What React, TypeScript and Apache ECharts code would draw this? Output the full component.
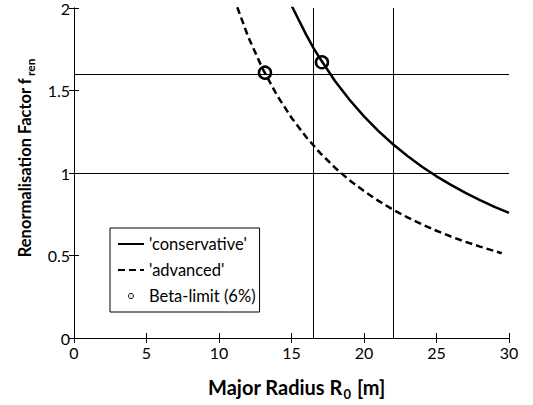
import React, { useEffect, useRef } from "react";
import * as echarts from "echarts";

const conservativeR = [15, 16, 16.5, 17, 18, 19, 20, 21, 22, 23, 24, 25, 26, 27, 28, 29, 30];
const conservativeF = [2.015, 1.84, 1.76, 1.689, 1.558, 1.444, 1.343, 1.254, 1.174, 1.103, 1.038, 0.98, 0.928, 0.88, 0.836, 0.795, 0.758];
const advancedR = [11, 12, 13, 14, 15, 16, 17, 18, 19, 20, 21, 22, 23, 24, 25, 26, 27, 28, 29, 29.5];
const advancedF = [2.067, 1.828, 1.633, 1.471, 1.335, 1.219, 1.119, 1.032, 0.956, 0.89, 0.831, 0.778, 0.731, 0.688, 0.65, 0.615, 0.583, 0.554, 0.527, 0.514];
const betaR = [17.1, 13.17];
const betaF = [1.671, 1.608];
const refY = [1, 1.6];
const refX = [16.5, 22];
const xTicks = [0, 30, 5];
const yTicks = [0, 2, 0.5];

const FONT = "Lato";

export default function App() {
  const ref = useRef<HTMLDivElement>(null);
  useEffect(() => {
    if (!ref.current) return;
    const chart = echarts.init(ref.current, undefined, { renderer: "svg" });
    const axisCommon = {
      axisLine: { show: true, lineStyle: { color: "#000", width: 1 } },
      axisTick: { show: true, inside: true, length: 5, lineStyle: { color: "#000" } },
      splitLine: { show: false },
    };
    const noSymbol = { color: "rgba(0,0,0,0)", borderWidth: 0, opacity: 0 };
    chart.setOption({
      animation: false,
      backgroundColor: "#fff",
      textStyle: { fontFamily: FONT },
      grid: { left: 74, right: 24, top: 8, bottom: 67, containLabel: false },
      xAxis: [
        {
          type: "value",
          min: xTicks[0],
          max: xTicks[1],
          interval: xTicks[2],
          position: "bottom",
          ...axisCommon,
          axisLabel: { color: "#000", fontSize: 16, fontFamily: FONT, margin: 6 },
          name: "{a|Major Radius R}{s|0}{a| [m]}",
          nameLocation: "middle",
          nameGap: 37,
          nameTextStyle: {
            padding: [0, 0, 0, 10],
            rich: {
              a: { fontSize: 20, fontWeight: "bold", fontFamily: FONT, color: "#000", lineHeight: 24 },
              s: { fontSize: 13, fontWeight: "bold", fontFamily: FONT, color: "#000", padding: [13, 1, 0, 1], lineHeight: 24 },
            },
          },
        },
        {
          type: "value",
          min: xTicks[0],
          max: xTicks[1],
          interval: xTicks[2],
          position: "top",
          ...axisCommon,
          axisLabel: { show: false },
        },
      ],
      yAxis: [
        {
          type: "value",
          min: yTicks[0],
          max: yTicks[1],
          interval: yTicks[2],
          position: "left",
          ...axisCommon,
          axisLabel: { color: "#000", fontSize: 16, fontFamily: FONT, margin: 4 },
          name: "{a|Renormalisation Factor f}{s|ren}",
          nameLocation: "middle",
          nameGap: 38,
          nameRotate: 90,
          nameTextStyle: {
            padding: [0, 0, 0, 30],
            rich: {
              a: { fontSize: 16.5, fontWeight: "bold", fontFamily: FONT, color: "#000", lineHeight: 22 },
              s: { fontSize: 12, fontWeight: "bold", fontFamily: FONT, color: "#000", padding: [12, 0, 0, 2], lineHeight: 22 },
            },
          },
        },
        {
          type: "value",
          min: yTicks[0],
          max: yTicks[1],
          interval: yTicks[2],
          position: "right",
          ...axisCommon,
          axisLabel: { show: false },
        },
      ],
      legend: {
        orient: "vertical",
        left: 110,
        top: 228,
        itemWidth: 26,
        itemHeight: 5,
        itemGap: 8,
        padding: [7, 4, 7, 7],
        borderColor: "#000",
        borderWidth: 1,
        backgroundColor: "#fff",
        textStyle: { fontFamily: FONT, fontSize: 16.5, color: "#000", lineHeight: 18 },
        data: [
          { name: "'conservative'", itemStyle: noSymbol },
          { name: "'advanced'", itemStyle: noSymbol },
          { name: "Beta-limit (6%)", itemStyle: { color: "rgba(0,0,0,0)", borderColor: "#000", borderWidth: 1 } },
        ],
      },
      series: [
        {
          name: "'conservative'",
          type: "line",
          symbol: "none",
          clip: true,
          data: conservativeR.map((r, i) => [r, conservativeF[i]]),
          lineStyle: { color: "#000", width: 2.5 },
          itemStyle: { color: "#000" },
          markLine: {
            silent: true,
            symbol: "none",
            label: { show: false },
            lineStyle: { color: "#000", width: 1, type: "solid" },
            data: [
              ...refY.map((v) => ({ yAxis: v })),
              ...refX.map((v) => ({ xAxis: v })),
            ],
          },
          z: 3,
        },
        {
          name: "'advanced'",
          type: "line",
          symbol: "none",
          clip: true,
          data: advancedR.map((r, i) => [r, advancedF[i]]),
          lineStyle: { color: "#000", width: 2.5, type: [7, 4] },
          itemStyle: { color: "#000" },
          z: 3,
        },
        {
          name: "Beta-limit (6%)",
          type: "scatter",
          symbol: "circle",
          symbolSize: 12,
          data: betaR.map((r, i) => [r, betaF[i]]),
          itemStyle: { color: "rgba(0,0,0,0)", borderColor: "#000", borderWidth: 2.5, opacity: 1 },
          z: 4,
        },
      ],
    });
    return () => chart.dispose();
  }, []);
  return (
    <div
      ref={ref}
      style={{ position: "fixed", left: 0, top: 0, width: 533, height: 405 }}
    />
  );
}
